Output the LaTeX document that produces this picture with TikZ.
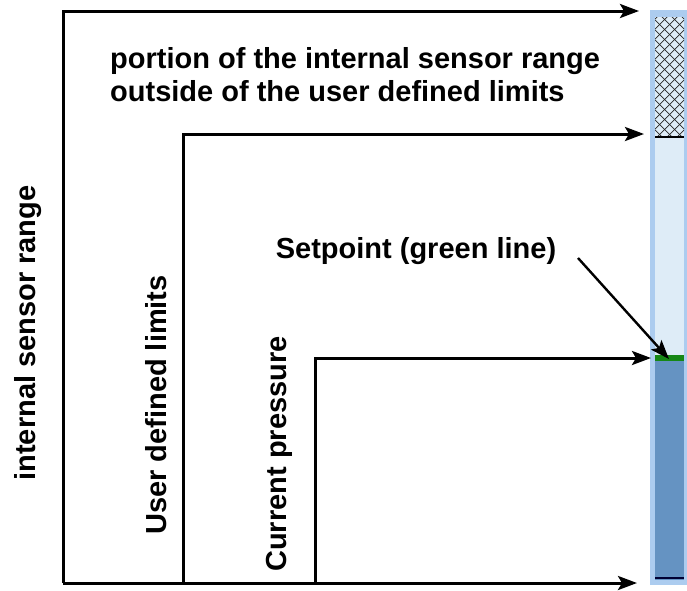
\documentclass[tikz,border=0pt]{standalone}
\usepackage{fontspec}
\setmainfont{Liberation Sans}
\usepackage{xcolor}
\usepackage{tikz}
\usetikzlibrary{arrows.meta,positioning}
\definecolor{barout}{RGB}{172,204,239}
\definecolor{barin}{RGB}{222,236,247}
\definecolor{barlevel}{RGB}{101,147,194}
\definecolor{spgreen}{RGB}{22,135,22}

\begin{document}
\begin{tikzpicture}[x=1pt,y=-1pt,>={Stealth[length=19pt,width=14pt,inset=4pt]},
    font=\fontsize{29}{33}\selectfont\bfseries,
    guide/.style={line width=3pt},
    lbl/.style={inner sep=0pt}]
    \useasboundingbox (0,0) rectangle (687,590);
    % pressure bar
    \fill[barout] (650,10) rectangle (687,585);
    \fill[barin] (655,17) rectangle (684,356);
    \begin{scope}
      \clip (655,17) rectangle (684,137);
      \foreach \k in {0,10,...,160}{
        \draw[line width=0.7pt,black!85] (655,\k-20) -- ++(40,40);
        \draw[line width=0.7pt,black!85] (684,\k-20) -- ++(-40,40);
      }
    \end{scope}
    \draw[line width=1.6pt] (655,137) -- (684,137);
    \fill[barlevel] (655,360) rectangle (684,580);
    \fill[spgreen] (655,355) rectangle (684,361);
    \draw[line width=1.4pt,black!80!blue] (655,578) -- (684,578);
    % arrow ends
    \coordinate (rangeBot) at (63,583);
    \coordinate (rangeTip) at (639,11);
    \coordinate (botTip) at (637,583);
    \coordinate (limBot) at (183,583);
    \coordinate (limTip) at (644,134);
    \coordinate (curBot) at (315,583);
    \coordinate (curTip) at (651,358);
    \coordinate (spStart) at (578,258);
    \coordinate (spTip) at (669,359);
    \draw[guide,->] (rangeBot) |- (rangeTip);
    \draw[guide,->] (rangeBot) -- (botTip);
    \draw[guide,->] (limBot) |- (limTip);
    \draw[guide,->] (curBot) |- (curTip);
    \draw[line width=2.4pt,->] (spStart) -- (spTip);
    % labels
    \node[lbl,anchor=north west,align=left] (outside) at (110,47)
      {portion of the internal sensor range\\outside of the user defined limits};
    \node[lbl,rotate=90,anchor=base] (range) at (35,333) {internal sensor range};
    \node[lbl,rotate=90,anchor=base] (limits) at (166,405) {User defined limits};
    \node[lbl,rotate=90,anchor=base] (current) at (286,454) {Current pressure};
    \node[lbl,anchor=base] (setpoint) at (416,258) {Setpoint (green line)};
  \end{tikzpicture}
\end{document}
